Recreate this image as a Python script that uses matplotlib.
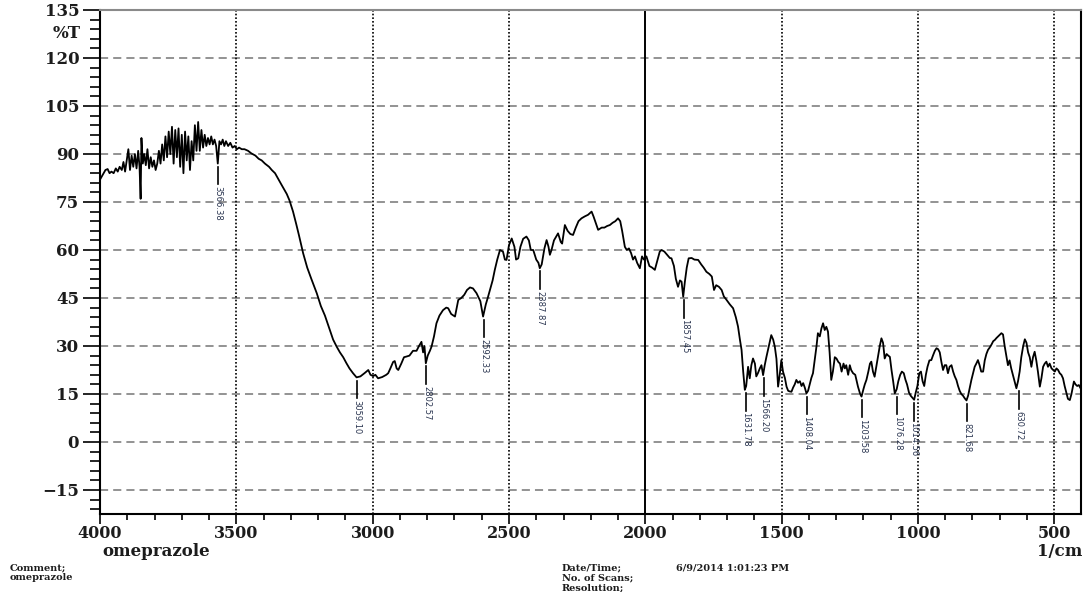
import numpy as np
import matplotlib
matplotlib.use('Agg')
import matplotlib.pyplot as plt
from matplotlib.ticker import MultipleLocator

# spectrum (wavenumber in 1/cm, %T)
wavenumber = [
    4000, 3990, 3980, 3972, 3965, 3958, 3950, 3942, 3935, 3928, 3920, 3914, 3908, 3902, 3896, 3890,
    3884, 3878, 3872, 3866, 3860, 3855, 3851, 3848, 3843, 3838, 3832, 3826, 3820, 3814, 3808, 3802,
    3796, 3790, 3784, 3778, 3772, 3766, 3760, 3754, 3748, 3742, 3736, 3730, 3724, 3718, 3712, 3706,
    3700, 3694, 3688, 3682, 3676, 3670, 3664, 3658, 3652, 3646, 3640, 3634, 3628, 3622, 3616, 3610,
    3604, 3598, 3592, 3586, 3580, 3574, 3568, 3562, 3556, 3550, 3544, 3538, 3530, 3522, 3514, 3506,
    3498, 3490, 3480, 3470, 3457, 3445, 3430, 3418, 3407, 3395, 3380, 3370, 3358, 3345, 3335, 3325,
    3315, 3305, 3292, 3280, 3270, 3255, 3240, 3225, 3205, 3190, 3175, 3157, 3145, 3132, 3120, 3108,
    3096, 3085, 3072, 3059, 3045, 3030, 3016, 3008, 2998, 2990, 2980, 2965, 2950, 2943, 2935, 2925,
    2919, 2912, 2906, 2895, 2885, 2876, 2865, 2852, 2839, 2830, 2821, 2815, 2810, 2805, 2798, 2790,
    2784, 2775, 2766, 2755, 2742, 2730, 2723, 2712, 2698, 2686, 2675, 2664, 2654, 2643, 2632, 2619,
    2605, 2595, 2585, 2578, 2570, 2560, 2552, 2543, 2533, 2522, 2515, 2509, 2500, 2490, 2480, 2474,
    2466, 2458, 2448, 2436, 2427, 2420, 2411, 2400, 2392, 2387, 2380, 2370, 2362, 2355, 2350, 2344,
    2335, 2328, 2320, 2310, 2305, 2295, 2285, 2275, 2265, 2255, 2245, 2234, 2222, 2210, 2197, 2190,
    2180, 2173, 2160, 2150, 2140, 2130, 2120, 2110, 2100, 2092, 2085, 2075, 2068, 2060, 2052, 2045,
    2038, 2030, 2020, 2012, 2005, 1996, 1985, 1975, 1965, 1955, 1947, 1940, 1930, 1920, 1910, 1904,
    1895, 1888, 1880, 1873, 1867, 1861, 1855, 1848, 1841, 1830, 1820, 1806, 1795, 1786, 1776, 1765,
    1756, 1748, 1740, 1730, 1720, 1712, 1702, 1690, 1678, 1668, 1660, 1653, 1647, 1641, 1635, 1630,
    1623, 1617, 1611, 1605, 1598, 1593, 1587, 1580, 1574, 1568, 1562, 1556, 1550, 1544, 1538, 1531,
    1525, 1519, 1513, 1507, 1501, 1495, 1488, 1482, 1476, 1470, 1464, 1458, 1452, 1446, 1440, 1433,
    1427, 1421, 1415, 1409, 1403, 1397, 1391, 1385, 1378, 1372, 1367, 1360, 1354, 1348, 1342, 1336,
    1330, 1324, 1318, 1312, 1305, 1299, 1292, 1286, 1280, 1273, 1268, 1263, 1256, 1250, 1245, 1238,
    1230, 1220, 1212, 1207, 1200, 1195, 1189, 1182, 1176, 1171, 1165, 1159, 1152, 1146, 1140, 1134,
    1128, 1122, 1115, 1109, 1103, 1097, 1091, 1085, 1078, 1072, 1065, 1059, 1052, 1046, 1040, 1033,
    1027, 1020, 1014, 1008, 1002, 995, 989, 983, 977, 971, 965, 958, 951, 945, 938, 932,
    926, 920, 914, 908, 902, 896, 890, 884, 877, 871, 865, 859, 853, 847, 841, 835,
    828, 822, 816, 810, 804, 798, 792, 786, 780, 774, 768, 761, 755, 749, 743, 737,
    730, 724, 718, 712, 706, 700, 694, 688, 682, 676, 670, 664, 658, 652, 646, 639,
    633, 627, 621, 614, 608, 602, 596, 590, 584, 578, 572, 566, 560, 553, 547, 541,
    535, 529, 523, 517, 510, 504, 498, 492, 486, 480, 474, 468, 462, 456, 450, 443,
    437, 431, 428, 422, 416, 410, 405,
]
transmittance = [
    82.0, 83.5, 85.0, 85.3, 84.0, 84.5, 84.0, 85.5, 84.5, 86.0, 85.0, 87.5, 84.5, 88.0, 91.5, 85.0,
    89.5, 86.0, 90.0, 85.5, 91.0, 86.0, 76.0, 95.0, 87.0, 90.0, 86.5, 91.5, 85.5, 89.0, 86.0, 88.0,
    85.0, 87.0, 91.0, 87.0, 93.0, 88.0, 95.5, 89.0, 97.0, 90.0, 98.5, 87.0, 97.5, 89.0, 98.0, 86.0,
    96.0, 84.0, 97.0, 88.0, 95.5, 85.0, 94.0, 88.0, 99.0, 91.0, 100.0, 91.0, 97.5, 92.0, 96.0, 92.5,
    95.0, 93.0, 95.5, 93.0, 94.5, 92.5, 87.0, 94.0, 93.0, 94.5, 92.5, 94.0, 92.5, 93.5, 92.0, 92.5,
    91.5, 92.0, 91.5, 91.5, 91.0, 90.2, 89.5, 88.5, 88.0, 87.0, 86.0, 85.0, 84.0, 82.0, 80.5, 79.0,
    77.5, 75.5, 72.0, 68.0, 64.5, 59.0, 54.5, 51.0, 46.5, 42.5, 39.5, 35.0, 32.0, 29.8, 28.0, 26.5,
    24.6, 23.0, 21.5, 20.2, 20.5, 21.5, 22.5, 21.0, 20.6, 21.0, 19.9, 20.3, 21.0, 21.5, 23.0, 25.0,
    25.3, 23.0, 22.5, 24.5, 26.5, 26.7, 27.0, 28.5, 28.5, 30.0, 31.3, 28.0, 30.0, 24.6, 27.0, 28.5,
    29.8, 33.0, 37.1, 39.5, 41.2, 42.0, 41.8, 40.0, 39.2, 44.4, 45.0, 46.0, 47.5, 48.3, 48.0, 46.5,
    44.0, 39.2, 43.0, 45.0, 47.5, 50.5, 53.8, 57.0, 60.0, 59.5, 57.0, 56.9, 61.5, 63.6, 61.0, 57.0,
    57.4, 61.0, 63.5, 64.2, 63.0, 60.0, 60.0, 57.0, 56.0, 54.3, 55.5, 60.5, 63.1, 61.0, 58.5, 60.0,
    63.0, 64.0, 65.2, 62.5, 62.0, 67.8, 66.0, 65.0, 64.7, 67.0, 69.0, 69.9, 70.5, 71.0, 72.0, 70.5,
    68.0, 66.3, 67.0, 67.0, 67.5, 67.8, 68.5, 69.0, 69.9, 69.0, 66.0, 61.0, 60.0, 60.5, 59.0, 57.0,
    58.0, 56.0, 54.3, 58.0, 57.0, 58.0, 55.0, 54.5, 53.8, 57.0, 59.5, 60.0, 59.5, 58.5, 57.5, 57.4,
    55.0, 51.0, 48.5, 50.5, 50.1, 45.4, 50.0, 54.5, 57.4, 57.5, 57.0, 56.9, 55.5, 54.5, 53.2, 52.5,
    51.7, 47.5, 49.0, 48.5, 47.5, 45.5, 44.4, 43.0, 41.8, 39.0, 36.1, 32.0, 28.8, 22.0, 16.3, 17.5,
    23.5, 19.9, 24.0, 26.1, 24.5, 20.5, 21.5, 23.0, 24.0, 20.9, 24.0, 26.5, 28.8, 31.0, 33.4, 32.0,
    29.8, 26.0, 17.3, 21.0, 25.6, 22.0, 20.0, 17.3, 16.0, 15.8, 15.7, 17.0, 18.0, 19.4, 18.5, 19.0,
    17.5, 18.4, 17.0, 15.2, 16.0, 18.0, 20.0, 21.5, 26.0, 30.0, 34.0, 33.0, 35.5, 37.1, 35.0, 36.0,
    34.5, 28.0, 19.4, 22.0, 26.5, 26.1, 25.0, 24.5, 22.0, 24.5, 23.0, 24.0, 21.0, 24.0, 22.5, 21.5,
    21.0, 17.3, 15.0, 14.2, 16.5, 18.0, 19.4, 22.0, 24.5, 25.1, 22.0, 20.4, 24.0, 27.0, 30.0, 32.4,
    31.0, 26.1, 27.5, 27.0, 26.6, 22.5, 19.0, 15.2, 16.5, 19.0, 21.0, 22.0, 21.5, 19.5, 18.0, 15.5,
    14.5, 13.8, 13.2, 15.5, 17.5, 21.5, 22.0, 19.0, 17.5, 21.0, 23.5, 25.5, 25.6, 27.0, 28.5, 29.3,
    29.0, 28.0, 25.0, 22.5, 24.0, 24.0, 21.5, 23.5, 24.0, 22.0, 20.5, 19.4, 17.5, 16.0, 15.0, 14.5,
    13.6, 13.0, 14.5, 17.0, 19.4, 21.5, 23.5, 24.5, 25.6, 24.0, 22.0, 22.0, 25.5, 27.5, 28.8, 29.5,
    30.5, 31.5, 31.9, 32.5, 33.0, 33.5, 34.0, 33.6, 30.0, 27.0, 24.0, 25.5, 23.0, 21.0, 19.0, 16.8,
    19.0, 22.0, 26.5, 30.0, 32.1, 31.0, 28.0, 26.5, 23.5, 26.5, 28.2, 25.5, 22.0, 17.3, 20.0, 23.5,
    24.5, 25.1, 23.5, 24.5, 23.0, 22.5, 22.0, 23.0, 22.5, 21.5, 21.0, 19.9, 17.5, 15.5, 13.5, 13.1,
    15.0, 17.5, 18.9, 18.0, 17.5, 17.8, 17.0,
]

# picked peaks
peak_wn = [3566.38, 3059.10, 2802.57, 2592.33, 2387.87, 1857.45, 1631.78, 1566.20,
           1408.04, 1203.58, 1076.28, 1014.56, 821.68, 630.72]
peak_labels = ['3566.38', '3059.10', '2802.57', '2592.33', '2387.87', '1857.45', '1631.78',
               '1566.20', '1408.04', '1203.58', '1076.28', '1014.56', '821.68', '630.72']

x_major = [4000, 3500, 3000, 2500, 2000, 1500, 1000, 500]
y_major = [-15, 0, 15, 30, 45, 60, 75, 90, 105, 120, 135]

serif = ['DejaVu Serif']
narrow = ['Liberation Sans Narrow', 'DejaVu Sans']
txt_col = '#1c1c1c'

fig = plt.figure(figsize=(10.85, 5.92), dpi=100)
ax = fig.add_axes([100 / 1085, 1 - 514 / 592, 981 / 1085, 504 / 592])

ax.set_xlim(4000, 402)
ax.set_ylim(-22.5, 135)

# grid lines
for v in y_major[:-1]:
    ax.axhline(v, color='#8a8a8a', lw=1.3, linestyle=(0, (4.5, 2.8)), zorder=1)
for v in x_major:
    if v == 2000:
        ax.axvline(v, color='black', lw=1.4, zorder=1)
    elif v != 4000:
        ax.axvline(v, color='black', lw=1.2, linestyle=(0, (1, 1.2)), zorder=1)

ax.plot(wavenumber, transmittance, color='black', lw=1.3, zorder=3)

# peak markers
wn_arr = np.array(wavenumber)
t_arr = np.array(transmittance)
for p, lab in zip(peak_wn, peak_labels):
    near = np.abs(wn_arr - p) < 10
    t_min = t_arr[near].min() if near.any() else np.interp(p, wn_arr[::-1], t_arr[::-1])
    ax.plot([p, p], [t_min - 1.0, t_min - 6.5], color='black', lw=1.2, zorder=3)
    ax.text(p, t_min - 7.0, lab, rotation=270, ha='center', va='top',
            fontsize=6, family=narrow, color='#2a3550', zorder=3)

# axes styling
for s in ['left', 'bottom', 'right']:
    ax.spines[s].set_color('black')
    ax.spines[s].set_linewidth(1.5)
ax.spines['top'].set_color('#8a8a8a')
ax.spines['top'].set_linewidth(1.5)

ax.set_xticks(x_major)
ax.set_yticks(y_major)
ax.xaxis.set_minor_locator(MultipleLocator(100))
ax.yaxis.set_minor_locator(MultipleLocator(3))
ax.tick_params(axis='y', which='major', length=12, width=1.2, pad=3, direction='out')
ax.tick_params(axis='y', which='minor', length=7, width=1.2, direction='out')
ax.tick_params(axis='x', which='major', length=7.5, width=1.2, pad=0.5, direction='out')
ax.tick_params(axis='x', which='minor', length=4.5, width=1.2, direction='out')
for lab in ax.get_yticklabels():
    lab.set_family(serif)
    lab.set_fontweight('bold')
    lab.set_fontsize(12)
    lab.set_color(txt_col)
for lab in ax.get_xticklabels():
    lab.set_family(serif)
    lab.set_fontweight('bold')
    lab.set_fontsize(11.5)
    lab.set_color(txt_col)

ax.text(-0.02, 127.5, '%T', transform=ax.get_yaxis_transform(), ha='right', va='center',
        family=serif, fontweight='bold', fontsize=12, color=txt_col)

fig.text(102 / 1085, 1 - 551 / 592, 'omeprazole', ha='left', va='center',
         family=serif, fontweight='bold', fontsize=12, color=txt_col)
fig.text(1082 / 1085, 1 - 551 / 592, '1/cm', ha='right', va='center',
         family=serif, fontweight='bold', fontsize=12, color=txt_col)

# footer block
foot = dict(family=serif, fontweight='bold', fontsize=7, color=txt_col, ha='left', va='center')
fig.text(10 / 1085, 1 - 568 / 592, 'Comment;', **foot)
fig.text(10 / 1085, 1 - 578 / 592, 'omeprazole', **foot)
fig.text(562 / 1085, 1 - 568 / 592, 'Date/Time;', **foot)
fig.text(676 / 1085, 1 - 568 / 592, '6/9/2014 1:01:23 PM', **foot)
fig.text(562 / 1085, 1 - 578 / 592, 'No. of Scans;', **foot)
fig.text(562 / 1085, 1 - 588 / 592, 'Resolution;', **foot)

fig.savefig('out.png', dpi=100)
